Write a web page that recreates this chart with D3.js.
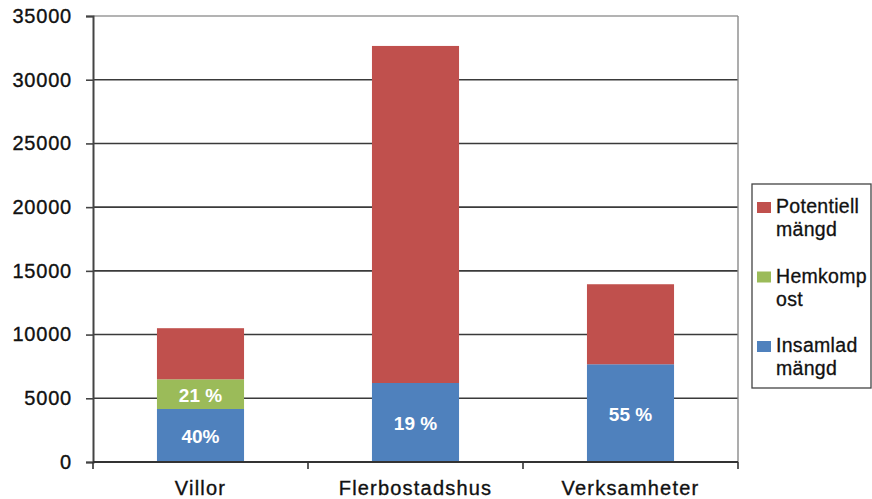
<!DOCTYPE html>
<html>
<head>
<meta charset="utf-8">
<script src="https://cdn.jsdelivr.net/npm/d3@7"></script>
<style>
  html, body { margin: 0; padding: 0; background: #fff; }
  svg { display: block; font-family: "Liberation Sans", Arial, sans-serif; }
</style>
</head>
<body>
<svg id="chart" width="872" height="499"></svg>
<script>
// ---- data ----
const categories = ["Villor", "Flerbostadshus", "Verksamheter"];
const insamlad   = [4160, 6200, 7670];
const hemkompost = [2330, 0, 0];
const potentiell = [4010, 26450, 6280];
const insamladLabels   = ["40%", "19 %", "55 %"];
const hemkompostLabels = ["21 %", "", ""];
const yTicks = [0, 5000, 10000, 15000, 20000, 25000, 30000, 35000];
const seriesNames  = ["Insamlad mängd", "Hemkompost", "Potentiell mängd"];
const legendLines  = [["Potentiell", "mängd"], ["Hemkomp", "ost"], ["Insamlad", "mängd"]];
const colors = { insamlad: "#4F81BD", hemkompost: "#9BBB59", potentiell: "#C0504D" };

// ---- layout ----
const svg = d3.select("#chart");
const mLeft = 93, mRight = 738, mTop = 16, mBottom = 462;

const x = d3.scaleBand().domain(categories).range([mLeft, mRight])
  .paddingInner(0.595).paddingOuter(0.2975);
const y = d3.scaleLinear().domain([0, 35000]).range([mBottom, mTop]);

const rows = categories.map((c, i) => ({
  cat: c, insamlad: insamlad[i], hemkompost: hemkompost[i], potentiell: potentiell[i],
  labIns: insamladLabels[i], labHem: hemkompostLabels[i]
}));
const stack = d3.stack().keys(["insamlad", "hemkompost", "potentiell"])(rows);

// gridlines
svg.append("g").selectAll("line").data(yTicks.filter(t => t > 0 && t < 35000)).join("line")
  .attr("x1", mLeft).attr("x2", mRight)
  .attr("y1", d => y(d)).attr("y2", d => y(d))
  .attr("stroke", "#3a3a3a").attr("stroke-width", 1.6);

// plot border (top & right)
svg.append("line").attr("x1", mLeft).attr("x2", mRight).attr("y1", y(35000)).attr("y2", y(35000))
  .attr("stroke", "#9a9a9a").attr("stroke-width", 1.4);
svg.append("line").attr("x1", mRight).attr("x2", mRight).attr("y1", mTop).attr("y2", mBottom)
  .attr("stroke", "#8a8a8a").attr("stroke-width", 1.4);

// bars
svg.append("g").selectAll("g").data(stack).join("g")
  .attr("fill", d => colors[d.key])
  .selectAll("rect").data(d => d.filter(s => s[1] - s[0] > 0)).join("rect")
  .attr("x", d => x(d.data.cat))
  .attr("width", x.bandwidth())
  .attr("y", d => y(d[1]))
  .attr("height", d => y(d[0]) - y(d[1]));

// bar labels
const labG = svg.append("g").attr("fill", "#fff").attr("font-weight", "bold")
  .attr("font-size", 19).attr("text-anchor", "middle").attr("dominant-baseline", "central");
rows.forEach((r, i) => {
  const cx = x(r.cat) + x.bandwidth() / 2;
  if (r.labIns) labG.append("text").attr("x", cx).attr("y", y(r.insamlad / 2) + 1).text(r.labIns);
  if (r.labHem) labG.append("text").attr("x", cx).attr("y", y(r.insamlad + r.hemkompost / 2) + 1).text(r.labHem);
});

// y axis
const yAxis = svg.append("g").attr("transform", `translate(${mLeft},0)`)
  .call(d3.axisLeft(y).tickValues(yTicks).tickSize(7).tickPadding(14).tickFormat(d3.format("d")));
yAxis.select(".domain").attr("stroke", "#444").attr("stroke-width", 2);
yAxis.selectAll(".tick line").attr("stroke", "#444").attr("stroke-width", 1.6);
yAxis.selectAll(".tick text").attr("font-size", 20).attr("fill", "#111")
  .attr("stroke", "#111").attr("stroke-width", 0.35)
  .attr("font-family", "'Liberation Sans', Arial, sans-serif").attr("letter-spacing", "0.8px");

// x axis
svg.append("line").attr("x1", mLeft).attr("x2", mRight).attr("y1", mBottom).attr("y2", mBottom)
  .attr("stroke", "#333").attr("stroke-width", 2);
const bounds = [mLeft].concat(categories.map(c => x(c) + x.bandwidth() + (x.step() - x.bandwidth()) / 2));
svg.append("g").selectAll("line").data(bounds).join("line")
  .attr("x1", d => d).attr("x2", d => d).attr("y1", mBottom).attr("y2", mBottom + 7)
  .attr("stroke", "#333").attr("stroke-width", 1.6);
svg.append("g").selectAll("text").data(categories).join("text")
  .attr("x", d => x(d) + x.bandwidth() / 2).attr("y", 495)
  .attr("text-anchor", "middle").attr("font-size", 20).attr("fill", "#111")
  .attr("stroke", "#111").attr("stroke-width", 0.35)
  .attr("letter-spacing", "1.2px").text(d => d);

// legend
const lg = svg.append("g");
lg.append("rect").attr("x", 752).attr("y", 184).attr("width", 119).attr("height", 204)
  .attr("fill", "#fff").attr("stroke", "#444").attr("stroke-width", 1.3);
const legendKeys = ["potentiell", "hemkompost", "insamlad"];
legendKeys.forEach((k, i) => {
  const base = 213 + i * 69.5;
  lg.append("rect").attr("x", 757).attr("y", base - 11).attr("width", 14).attr("height", 11)
    .attr("fill", colors[k]);
  legendLines[i].forEach((ln, j) => {
    lg.append("text").attr("x", 776).attr("y", base + j * 23).attr("font-size", 19.5)
      .attr("fill", "#111").attr("stroke", "#111").attr("stroke-width", 0.3)
      .attr("letter-spacing", "0.3px").text(ln);
  });
});
</script>
</body>
</html>
